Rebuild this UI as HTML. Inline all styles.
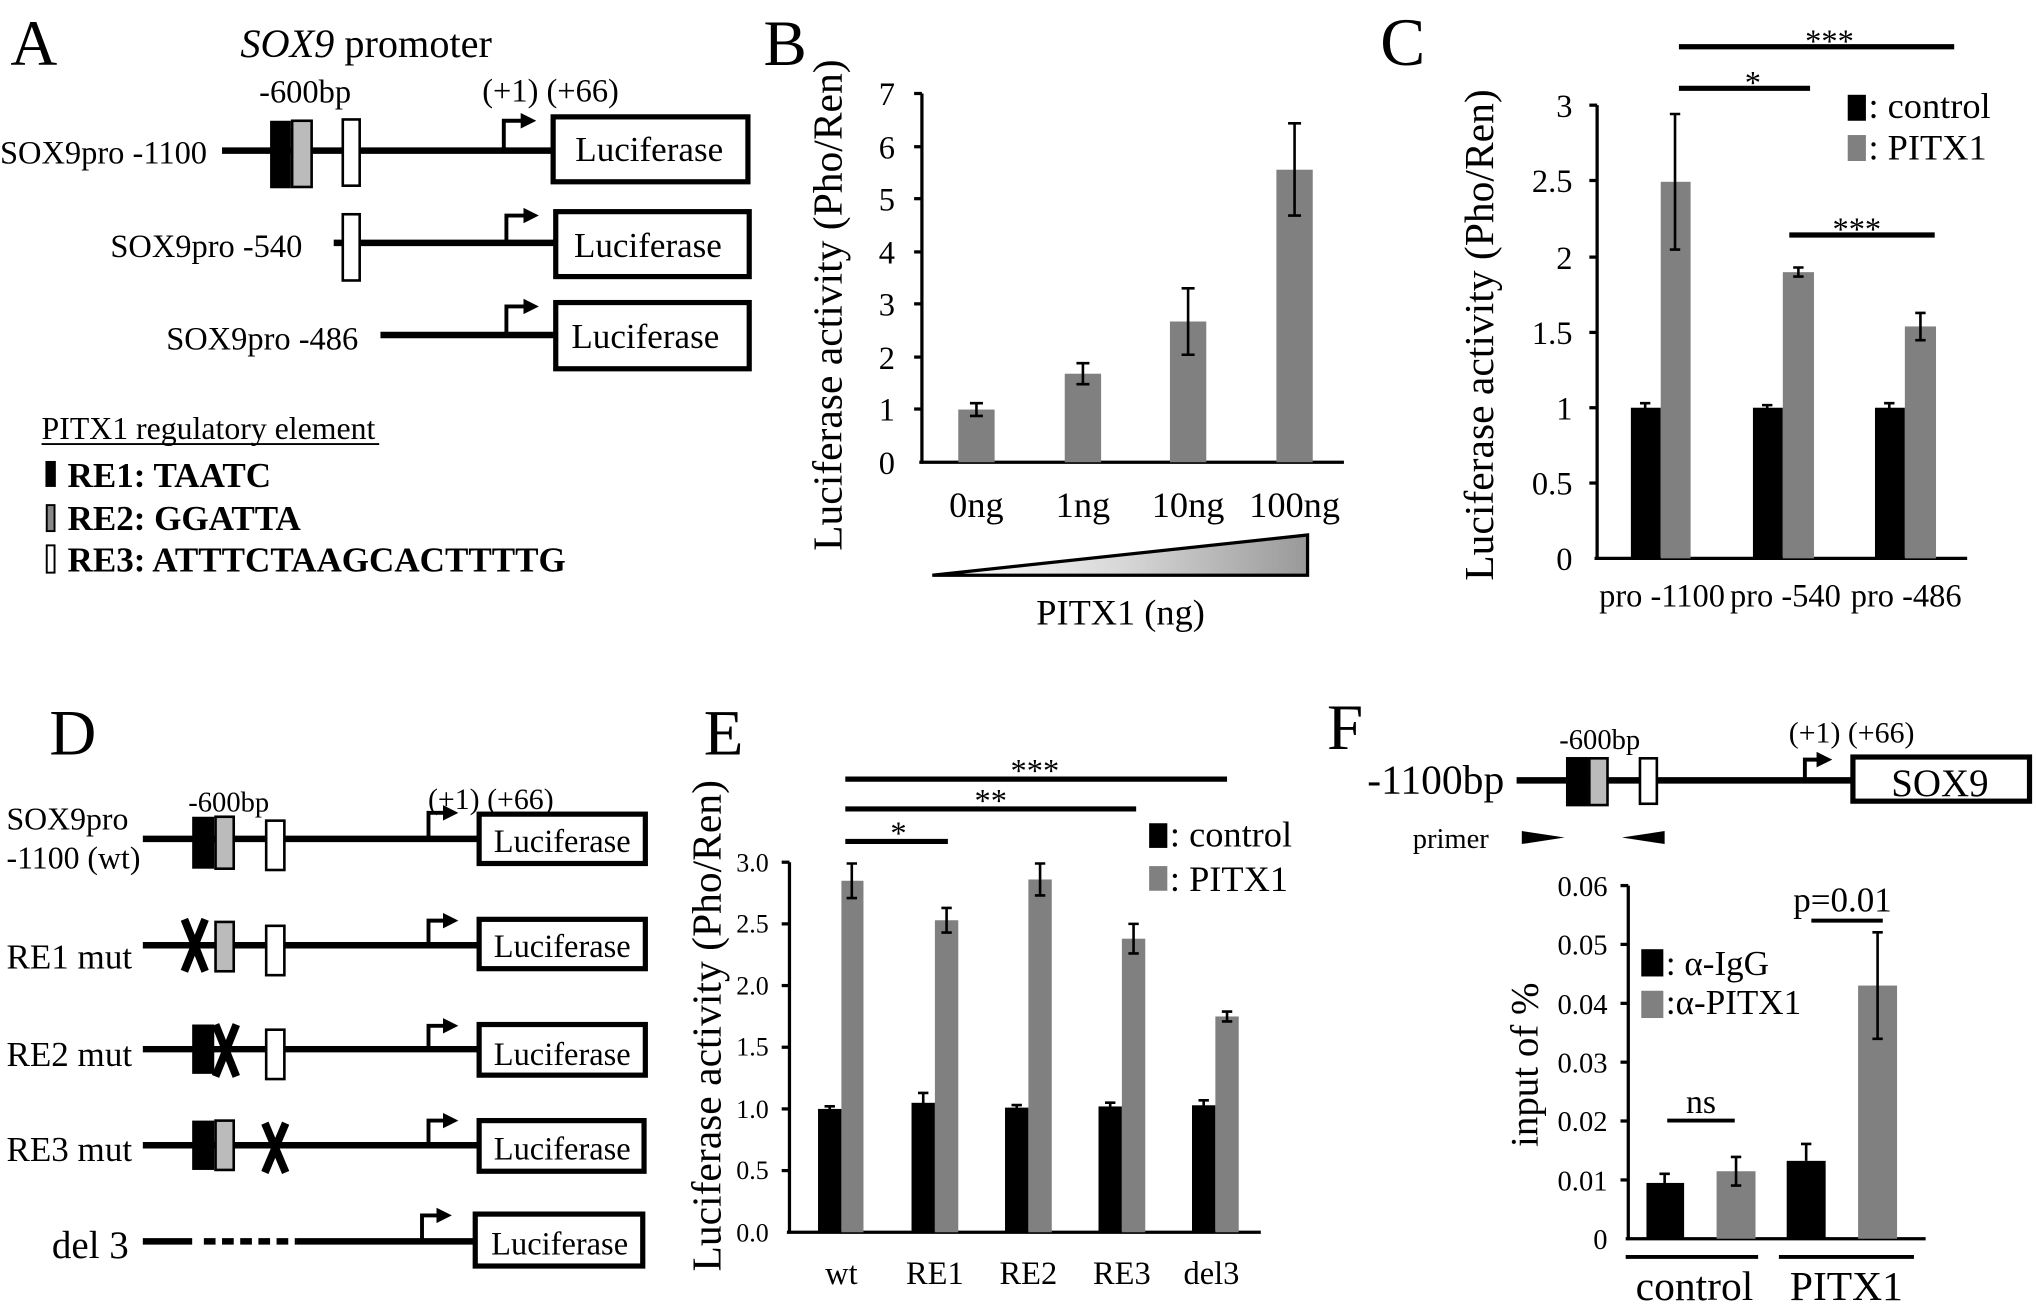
<!DOCTYPE html>
<html><head><meta charset="utf-8"><style>
html,body{margin:0;padding:0;background:#fff;}
svg{display:block;}
text{font-family:"Liberation Serif",serif;fill:#000;}
</style></head><body>
<svg width="2036" height="1312" viewBox="0 0 1568 1010.4" preserveAspectRatio="none" xmlns="http://www.w3.org/2000/svg">
<defs>
<linearGradient id="gr" x1="0" x2="1" y1="0" y2="0"><stop offset="0" stop-color="#fff"/><stop offset="0.5" stop-color="#d8d8d8"/><stop offset="1" stop-color="#999"/></linearGradient>
<marker id="ah" markerWidth="4" markerHeight="4" refX="1" refY="2" orient="auto" markerUnits="strokeWidth"><path d="M0,0 L4,2 L0,4 z" fill="#000"/></marker>
</defs>

<!-- Panel A -->
<text x="8" y="50" font-size="50">A</text>
<text x="282" y="44" font-size="31" text-anchor="middle"><tspan font-style="italic">SOX9</tspan> promoter</text>
<text x="235" y="79" font-size="25" text-anchor="middle">-600bp</text>
<text x="424" y="78" font-size="25" text-anchor="middle">(+1) (+66)</text>
<line x1="171" y1="116" x2="427" y2="116" stroke="#000" stroke-width="5"/>
<rect x="208" y="93" width="16" height="52" fill="#000"/>
<rect x="225" y="93" width="15" height="51" fill="#bbb" stroke="#000" stroke-width="2"/>
<rect x="264" y="92" width="13" height="51" fill="#fff" stroke="#000" stroke-width="2"/>
<polyline points="388,116 388,93 404,93" fill="none" stroke="#000" stroke-width="3" marker-end="url(#ah)"/>
<rect x="426" y="90" width="150" height="50" fill="#fff" stroke="#000" stroke-width="4"/>
<text x="500" y="124" font-size="27" text-anchor="middle">Luciferase</text>
<text x="0" y="126" font-size="25">SOX9pro -1100</text>

<line x1="257" y1="187" x2="427" y2="187" stroke="#000" stroke-width="5"/>
<rect x="264" y="165" width="13" height="51" fill="#fff" stroke="#000" stroke-width="2"/>
<polyline points="390,187 390,166 406,166" fill="none" stroke="#000" stroke-width="3" marker-end="url(#ah)"/>
<rect x="428" y="163" width="149" height="50" fill="#fff" stroke="#000" stroke-width="4"/>
<text x="499" y="198" font-size="27" text-anchor="middle">Luciferase</text>
<text x="85" y="198" font-size="25">SOX9pro -540</text>

<line x1="293" y1="258" x2="427" y2="258" stroke="#000" stroke-width="5"/>
<polyline points="390,258 390,236 406,236" fill="none" stroke="#000" stroke-width="3" marker-end="url(#ah)"/>
<rect x="428" y="233" width="149" height="51" fill="#fff" stroke="#000" stroke-width="4"/>
<text x="497" y="268" font-size="27" text-anchor="middle">Luciferase</text>
<text x="128" y="269" font-size="25">SOX9pro -486</text>

<text x="32" y="338" font-size="24.5">PITX1 regulatory element</text>
<line x1="32" y1="342" x2="292" y2="342" stroke="#000" stroke-width="1.5"/>
<rect x="35" y="355" width="8" height="20" fill="#000"/>
<text x="52" y="375" font-size="27" font-weight="bold">RE1: TAATC</text>
<rect x="36" y="389" width="6" height="20" fill="#888" stroke="#000" stroke-width="1.5"/>
<text x="52" y="408" font-size="27" font-weight="bold">RE2: GGATTA</text>
<rect x="36" y="420" width="6" height="21" fill="#fff" stroke="#000" stroke-width="1.5"/>
<text x="52" y="440" font-size="27" font-weight="bold">RE3: ATTTCTAAGCACTTTTG</text>

<!-- Panel B -->
<text x="588" y="50" font-size="50">B</text>
<text transform="translate(648,235) rotate(-90)" font-size="32" text-anchor="middle">Luciferase activity  (Pho/Ren)</text>
<g stroke="#000" stroke-width="2.5">
<line x1="710" y1="72" x2="710" y2="357"/>
<line x1="708" y1="356" x2="1035" y2="356"/>
<line x1="704" y1="72" x2="710" y2="72"/><line x1="704" y1="113" x2="710" y2="113"/><line x1="704" y1="153" x2="710" y2="153"/><line x1="704" y1="194" x2="710" y2="194"/><line x1="704" y1="234" x2="710" y2="234"/><line x1="704" y1="275" x2="710" y2="275"/><line x1="704" y1="315" x2="710" y2="315"/>
</g>
<g font-size="25" text-anchor="middle">
<text x="683" y="81">7</text><text x="683" y="122">6</text><text x="683" y="162">5</text><text x="683" y="203">4</text><text x="683" y="243">3</text><text x="683" y="284">2</text><text x="683" y="324">1</text><text x="683" y="365">0</text>
</g>
<g fill="#808080">
<rect x="738" y="315.4" width="28" height="40.6"/>
<rect x="820" y="287.8" width="28" height="68.2"/>
<rect x="901" y="247.6" width="28" height="108.4"/>
<rect x="983" y="130.7" width="28" height="225.3"/>
</g>
<g stroke="#000" stroke-width="2">
<path d="M752,310.5V320.3M747,310.5h10M747,320.3h10"/>
<path d="M834,279.7V295.9M829,279.7h10M829,295.9h10"/>
<path d="M915,222V273.2M910,222h10M910,273.2h10"/>
<path d="M997,95V166M992,95h10M992,166h10"/>
</g>
<g font-size="28" text-anchor="middle">
<text x="752" y="398">0ng</text><text x="834" y="398">1ng</text><text x="915" y="398">10ng</text><text x="997" y="398">100ng</text>
</g>
<polygon points="718,443 1007,412 1007,443" fill="url(#gr)" stroke="#000" stroke-width="2.5"/>
<text x="863" y="481" font-size="28" text-anchor="middle">PITX1 (ng)</text>

<!-- Panel C -->
<text x="1063" y="50" font-size="52">C</text>
<text transform="translate(1150,258) rotate(-90)" font-size="32" text-anchor="middle">Luciferase activity  (Pho/Ren)</text>
<g stroke="#000" stroke-width="2.5">
<line x1="1230" y1="81" x2="1230" y2="431"/>
<line x1="1228" y1="430" x2="1515" y2="430"/>
<line x1="1224" y1="81" x2="1230" y2="81"/><line x1="1224" y1="139" x2="1230" y2="139"/><line x1="1224" y1="198" x2="1230" y2="198"/><line x1="1224" y1="256" x2="1230" y2="256"/><line x1="1224" y1="314" x2="1230" y2="314"/><line x1="1224" y1="372" x2="1230" y2="372"/>
</g>
<g font-size="25" text-anchor="end">
<text x="1211" y="90">3</text><text x="1211" y="148">2.5</text><text x="1211" y="207">2</text><text x="1211" y="265">1.5</text><text x="1211" y="323">1</text><text x="1211" y="381">0.5</text><text x="1211" y="439">0</text>
</g>
<g fill="#000">
<rect x="1256" y="314" width="23" height="116"/><rect x="1350" y="314" width="23" height="116"/><rect x="1444" y="314" width="23" height="116"/>
</g>
<g fill="#808080">
<rect x="1279" y="140" width="23" height="290"/><rect x="1373" y="209.6" width="24" height="220.4"/><rect x="1467" y="251.4" width="24" height="178.6"/>
</g>
<g stroke="#000" stroke-width="2">
<path d="M1267,310.5V317.5M1263,310.5h8"/>
<path d="M1290,87.8V192.2M1286,87.8h8M1286,192.2h8"/>
<path d="M1361,312V316M1357,312h8"/>
<path d="M1385,206V213M1381,206h8M1381,213h8"/>
<path d="M1455,310.5V317.5M1451,310.5h8"/>
<path d="M1479,241V262M1475,241h8M1475,262h8"/>
</g>
<g font-size="25" text-anchor="middle">
<text x="1280" y="467">pro -1100</text><text x="1375" y="467">pro -540</text><text x="1468" y="467">pro -486</text>
</g>
<g stroke="#000" stroke-width="4">
<line x1="1293" y1="36" x2="1505" y2="36"/><line x1="1293" y1="68" x2="1394" y2="68"/><line x1="1378" y1="181" x2="1490" y2="181"/>
</g>
<g font-size="25" text-anchor="middle">
<text x="1409" y="40">***</text><text x="1350" y="72">*</text><text x="1430" y="185">***</text>
</g>
<rect x="1423" y="73" width="14" height="20" fill="#000"/>
<text x="1439" y="91" font-size="28">: control</text>
<rect x="1423" y="104" width="14" height="20" fill="#808080"/>
<text x="1439" y="123" font-size="28">: PITX1</text>

<!-- Panel D -->
<text x="38" y="581" font-size="50">D</text>
<text x="145" y="625" font-size="22">-600bp</text>
<text x="378" y="623" font-size="23" text-anchor="middle">(+1) (+66)</text>
<text x="5" y="639" font-size="24.5">SOX9pro</text>
<text x="5" y="669" font-size="24.5">-1100 (wt)</text>
<g stroke="#000" stroke-width="5">
<line x1="110" y1="646" x2="370" y2="646"/>
<line x1="110" y1="728" x2="370" y2="728"/>
<line x1="110" y1="808" x2="370" y2="808"/>
<line x1="110" y1="882" x2="370" y2="882"/>
<line x1="110" y1="956" x2="148" y2="956"/>
<line x1="157" y1="956" x2="228" y2="956" stroke-dasharray="9,5"/>
<line x1="228" y1="956" x2="370" y2="956"/>
</g>
<rect x="148" y="629" width="17" height="40" fill="#000"/>
<rect x="166" y="629" width="14" height="40" fill="#bbb" stroke="#000" stroke-width="2"/>
<rect x="205" y="632" width="14" height="38" fill="#fff" stroke="#000" stroke-width="2"/>
<path d="M142,708 L158,748 M158,708 L142,748" stroke="#000" stroke-width="6"/>
<rect x="166" y="710" width="14" height="38" fill="#bbb" stroke="#000" stroke-width="2"/>
<rect x="205" y="713" width="14" height="38" fill="#fff" stroke="#000" stroke-width="2"/>
<rect x="148" y="789" width="17" height="38" fill="#000"/>
<path d="M166,789 L182,829 M182,789 L166,829" stroke="#000" stroke-width="6"/>
<rect x="205" y="793" width="14" height="38" fill="#fff" stroke="#000" stroke-width="2"/>
<rect x="148" y="863" width="17" height="38" fill="#000"/>
<rect x="166" y="863" width="14" height="38" fill="#bbb" stroke="#000" stroke-width="2"/>
<path d="M204,865 L220,903 M220,865 L204,903" stroke="#000" stroke-width="6"/>
<g fill="none" stroke="#000" stroke-width="3">
<polyline points="330,646 330,626 344,626" marker-end="url(#ah)"/>
<polyline points="330,728 330,709 344,709" marker-end="url(#ah)"/>
<polyline points="330,808 330,790 344,790" marker-end="url(#ah)"/>
<polyline points="330,882 330,863 344,863" marker-end="url(#ah)"/>
<polyline points="325,956 325,936 339,936" marker-end="url(#ah)"/>
</g>
<g fill="#fff" stroke="#000" stroke-width="4">
<rect x="369" y="627" width="128" height="38"/>
<rect x="369" y="708" width="128" height="38"/>
<rect x="369" y="789" width="128" height="39"/>
<rect x="369" y="863" width="127" height="39"/>
<rect x="366" y="935" width="129" height="40"/>
</g>
<g font-size="25" text-anchor="middle">
<text x="433" y="656">Luciferase</text><text x="433" y="737">Luciferase</text><text x="433" y="820">Luciferase</text><text x="433" y="893">Luciferase</text><text x="431" y="966">Luciferase</text>
</g>
<g font-size="27">
<text x="5" y="746">RE1 mut</text><text x="5" y="821">RE2 mut</text><text x="5" y="894">RE3 mut</text>
<text x="40" y="969" font-size="30">del 3</text>
</g>

<!-- Panel E -->
<text x="542" y="581" font-size="50">E</text>
<text transform="translate(555,790) rotate(-90)" font-size="32" text-anchor="middle">Luciferase activity  (Pho/Ren)</text>
<g stroke="#000" stroke-width="2.5">
<line x1="608" y1="664" x2="608" y2="950"/>
<line x1="606" y1="949" x2="971" y2="949"/>
<line x1="602" y1="664" x2="608" y2="664"/><line x1="602" y1="711.5" x2="608" y2="711.5"/><line x1="602" y1="759" x2="608" y2="759"/><line x1="602" y1="806.5" x2="608" y2="806.5"/><line x1="602" y1="854" x2="608" y2="854"/><line x1="602" y1="901.5" x2="608" y2="901.5"/>
</g>
<g font-size="20" text-anchor="end">
<text x="592" y="671">3.0</text><text x="592" y="718">2.5</text><text x="592" y="766">2.0</text><text x="592" y="813">1.5</text><text x="592" y="861">1.0</text><text x="592" y="908">0.5</text><text x="592" y="956">0.0</text>
</g>
<g fill="#000">
<rect x="630" y="854" width="18" height="95"/><rect x="702" y="849.3" width="18" height="99.7"/><rect x="774" y="853" width="18" height="96"/><rect x="846" y="852.1" width="18" height="96.9"/><rect x="918" y="851.2" width="18" height="97.8"/>
</g>
<g fill="#808080">
<rect x="648" y="678.3" width="17" height="270.7"/><rect x="720" y="708.7" width="18" height="240.3"/><rect x="792" y="677.3" width="18" height="271.7"/><rect x="864" y="722.9" width="18" height="226.1"/><rect x="936" y="782.8" width="18" height="166.2"/>
</g>
<g stroke="#000" stroke-width="2">
<path d="M639,852V856M635,852h8"/>
<path d="M711,841.7V857M707,841.7h8"/>
<path d="M783,851V855M779,851h8"/>
<path d="M855,849.2V855M851,849.2h8"/>
<path d="M927,847.4V855M923,847.4h8"/>
<path d="M656,665V691.6M652,665h8M652,691.6h8"/>
<path d="M729,699.2V718.2M725,699.2h8M725,718.2h8"/>
<path d="M801,665V689.6M797,665h8M797,689.6h8"/>
<path d="M873,711.5V734.3M869,711.5h8M869,734.3h8"/>
<path d="M945,779V786.6M941,779h8M941,786.6h8"/>
</g>
<g font-size="25" text-anchor="middle">
<text x="648" y="989">wt</text><text x="720" y="989">RE1</text><text x="792" y="989">RE2</text><text x="864" y="989">RE3</text><text x="933" y="989">del3</text>
</g>
<g stroke="#000" stroke-width="4">
<line x1="651" y1="600" x2="945" y2="600"/><line x1="651" y1="623" x2="875" y2="623"/><line x1="651" y1="648" x2="730" y2="648"/>
</g>
<g font-size="25" text-anchor="middle">
<text x="797" y="602">***</text><text x="763" y="625">**</text><text x="692" y="650">*</text>
</g>
<rect x="885" y="634" width="14" height="19" fill="#000"/>
<text x="901" y="652" font-size="28">: control</text>
<rect x="885" y="667" width="14" height="19" fill="#808080"/>
<text x="901" y="686" font-size="28">: PITX1</text>

<!-- Panel F -->
<text x="1022" y="577" font-size="50">F</text>
<text x="1053" y="611" font-size="32">-1100bp</text>
<text x="1232" y="577" font-size="22" text-anchor="middle">-600bp</text>
<text x="1426" y="572" font-size="23" text-anchor="middle">(+1) (+66)</text>
<line x1="1168" y1="601" x2="1428" y2="601" stroke="#000" stroke-width="5"/>
<rect x="1206" y="583" width="17" height="38" fill="#000"/>
<rect x="1224" y="584" width="14" height="36" fill="#bbb" stroke="#000" stroke-width="2"/>
<rect x="1263" y="584" width="13" height="35" fill="#fff" stroke="#000" stroke-width="2"/>
<polyline points="1390,601 1390,585 1402,585" fill="none" stroke="#000" stroke-width="3" marker-end="url(#ah)"/>
<rect x="1427" y="583" width="136" height="34" fill="#fff" stroke="#000" stroke-width="4"/>
<text x="1494" y="613" font-size="30" text-anchor="middle">SOX9</text>
<text x="1088" y="653" font-size="22">primer</text>
<polygon points="1172,640 1205,645 1172,650" fill="#000"/>
<polygon points="1282,640 1249,645 1282,650" fill="#000"/>

<text transform="translate(1184,820) rotate(-90)" font-size="30" text-anchor="middle">input of %</text>
<g stroke="#000" stroke-width="2.5">
<line x1="1254" y1="682" x2="1254" y2="955"/>
<line x1="1252" y1="954" x2="1483" y2="954"/>
<line x1="1248" y1="682" x2="1254" y2="682"/><line x1="1248" y1="727.3" x2="1254" y2="727.3"/><line x1="1248" y1="772.7" x2="1254" y2="772.7"/><line x1="1248" y1="818" x2="1254" y2="818"/><line x1="1248" y1="863.3" x2="1254" y2="863.3"/><line x1="1248" y1="908.7" x2="1254" y2="908.7"/>
</g>
<g font-size="22" text-anchor="end">
<text x="1238" y="690">0.06</text><text x="1238" y="735">0.05</text><text x="1238" y="781">0.04</text><text x="1238" y="826">0.03</text><text x="1238" y="871">0.02</text><text x="1238" y="917">0.01</text><text x="1238" y="962">0</text>
</g>
<rect x="1268" y="911" width="29" height="43" fill="#000"/>
<rect x="1322" y="902" width="30" height="52" fill="#808080"/>
<rect x="1376" y="894" width="30" height="60" fill="#000"/>
<rect x="1431" y="759" width="30" height="195" fill="#808080"/>
<g stroke="#000" stroke-width="2">
<path d="M1282,904V918M1278,904h8"/>
<path d="M1337,891V913M1333,891h8M1333,913h8"/>
<path d="M1391,881V894M1387,881h8"/>
<path d="M1446,718V800M1442,718h8M1442,800h8"/>
</g>
<text x="1310" y="857" font-size="26" text-anchor="middle">ns</text>
<line x1="1284" y1="863" x2="1336" y2="863" stroke="#000" stroke-width="3"/>
<text x="1419" y="702" font-size="27" text-anchor="middle">p=0.01</text>
<line x1="1395" y1="709" x2="1450" y2="709" stroke="#000" stroke-width="3"/>
<rect x="1264" y="731" width="17" height="21" fill="#000"/>
<text x="1283" y="751" font-size="27">: α-IgG</text>
<rect x="1264" y="763" width="17" height="21" fill="#808080"/>
<text x="1283" y="781" font-size="27">:α-PITX1</text>
<line x1="1252" y1="968" x2="1354" y2="968" stroke="#000" stroke-width="3"/>
<line x1="1370" y1="968" x2="1474" y2="968" stroke="#000" stroke-width="3"/>
<text x="1305" y="1001" font-size="32" text-anchor="middle">control</text>
<text x="1422" y="1001" font-size="32" text-anchor="middle">PITX1</text>
</svg>
</body></html>
